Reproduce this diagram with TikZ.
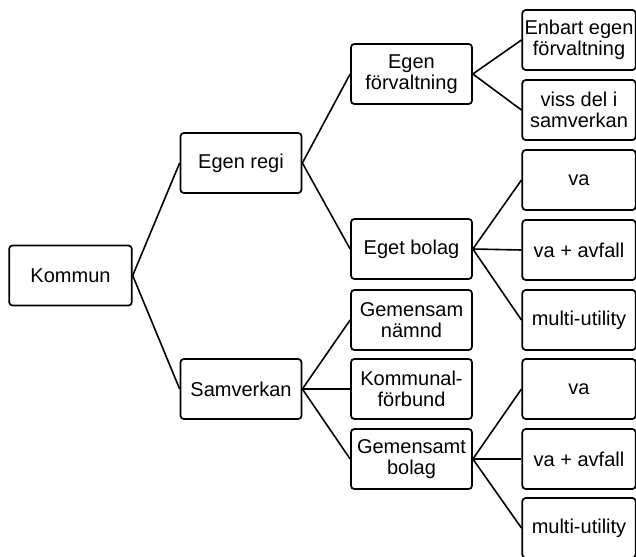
\documentclass[tikz,border=0pt]{standalone}
\usepackage{fontspec}
\setmainfont{Liberation Sans}
\usetikzlibrary{positioning}
\tikzset{
  org box/.style={
    draw=black,
    fill=white,
    line width=1.3pt,
    rounded corners=2.5pt,
    minimum width=90.75pt,
    minimum height=45pt,
    inner sep=1pt,
    align=center,
    font=\fontsize{15}{16}\selectfont
  },
  leaf box/.style={
    org box,
    minimum width=85pt
  },
  link/.style={
    line width=1.2pt
  }
}
\begin{document}
\begin{tikzpicture}[x=0.75pt, y=-0.75pt]
  \useasboundingbox (0,0) rectangle (636,557);

  % Level 1
  \node[org box, minimum width=92pt] (kommun) at (70.5,275.5) {Kommun};

  % Level 2
  \node[org box] (egenregi) at (241,163) {Egen regi};
  \node[org box] (samverkan) at (241,389) {Samverkan};

  % Level 3
  \node[org box] (egenforv) at (411.5,74) {Egen\\förvaltning};
  \node[org box] (egetbolag) at (411.5,249) {Eget bolag};
  \node[org box] (gemnamnd) at (411.5,320) {Gemensam\\nämnd};
  \node[org box] (kommunal) at (411.5,389) {Kommunal-\\förbund};
  \node[org box] (gembolag) at (411.5,459) {Gemensamt\\bolag};

  % Level 4
  \node[leaf box] (enbart) at (579,40) {Enbart egen\\förvaltning};
  \node[leaf box] (viss) at (579,110) {viss del i\\samverkan};
  \node[leaf box] (vaA) at (579,180) {va};
  \node[leaf box] (vaavfallA) at (579,250) {va + avfall};
  \node[leaf box] (multiA) at (579,320) {multi-utility};
  \node[leaf box] (vaB) at (579,389) {va};
  \node[leaf box] (vaavfallB) at (579,459) {va + avfall};
  \node[leaf box] (multiB) at (579,528) {multi-utility};

  % Connections
  \foreach \from/\to in {kommun/egenregi, kommun/samverkan,
      egenregi/egenforv, egenregi/egetbolag,
      samverkan/gemnamnd, samverkan/kommunal, samverkan/gembolag,
      egenforv/enbart, egenforv/viss,
      egetbolag/vaA, egetbolag/vaavfallA, egetbolag/multiA,
      gembolag/vaB, gembolag/vaavfallB, gembolag/multiB}
    \draw[link] (\from.east) -- (\to.west);

\end{tikzpicture}
\end{document}
